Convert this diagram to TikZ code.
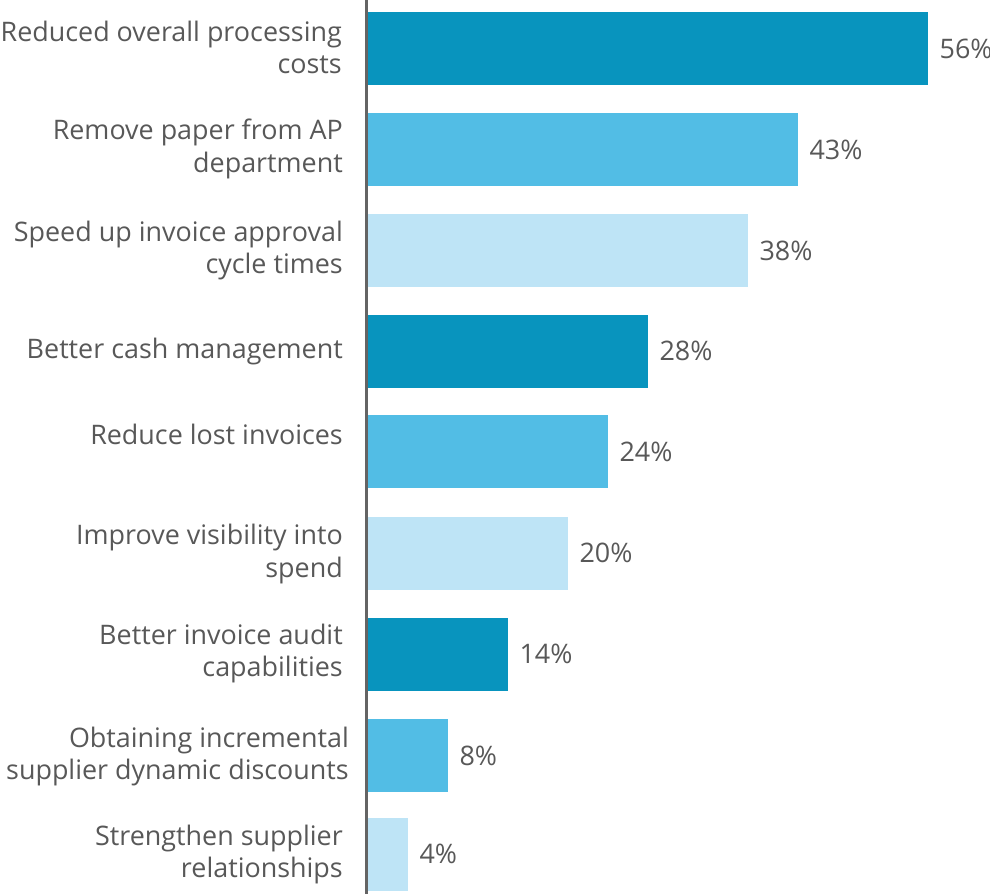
\documentclass[tikz,border=0pt]{standalone}
\usepackage{fontspec}
\setmainfont{Open Sans}
\usetikzlibrary{positioning}
\definecolor{bardark}{RGB}{8,148,190}
\definecolor{barmid}{RGB}{82,189,229}
\definecolor{barlight}{RGB}{190,228,246}
\definecolor{txtgray}{RGB}{88,88,88}
\definecolor{axisgray}{RGB}{100,100,100}
\tikzset{
x=1bp, y=-1bp, % one unit is one pixel of the chart, y going down
bar/.style={anchor=west, inner sep=0pt, minimum height=73bp}, % a bar starts at the axis
cat/.style={anchor=east, align=right, inner sep=0pt, text=txtgray,
  font=\fontsize{27}{32.5}\selectfont}, % category text left of the axis
pct/.style={right=11bp of #1, inner sep=0pt, text=txtgray,
  font=\fontsize{27}{32.5}\selectfont}, % value after the bar
axisline/.style={draw=axisgray, line width=3bp},
}
\begin{document}
\begin{tikzpicture}
\useasboundingbox (0,0) rectangle (990,894);

% bars: number / centre / percent / colour
\foreach \i/\y/\p/\c in {1/48.5/56/bardark, 2/149.5/43/barmid, 3/250.5/38/barlight,
                         4/351/28/bardark, 5/451.5/24/barmid, 6/553/20/barlight,
                         7/654/14/bardark, 8/755.5/8/barmid, 9/854/4/barlight}{
    \node[bar, fill=\c, minimum width=\p*10bp] (b\i) at (368,\y) {};
    \node[pct=b\i.east] (v\i) {\p\%};
}

% category labels
\node[cat] (c1) at (342,47.5)  {Reduced overall processing\\costs};
\node[cat] (c2) at (343,149) {Remove paper from AP\\department};
\node[cat] (c3) at (343,250.5) {Speed up invoice approval\\cycle times};
\node[cat] (c4) at (343,352) {Better cash management};
\node[cat] (c5) at (343,434.5) {Reduce lost invoices};
\node[cat] (c6) at (343,554) {Improve visibility into\\spend};
\node[cat] (c7) at (343,653.5) {Better invoice audit\\capabilities};
\node[cat] (c8) at (349,756.5) {Obtaining incremental\\supplier dynamic discounts};
\node[cat] (c9) at (343,854.5) {Strengthen supplier\\relationships};

% axis
\coordinate (axtop) at (366.5,0);
\coordinate (axbot) at (366.5,894);
\draw[axisline] (axtop) -- (axbot);
\end{tikzpicture}
\end{document}
